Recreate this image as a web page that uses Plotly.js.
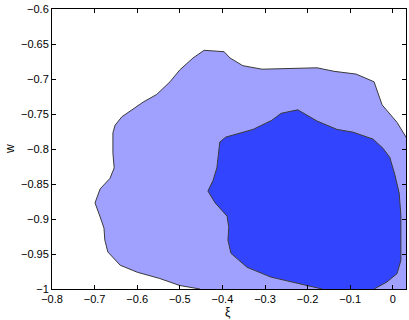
<!DOCTYPE html>
<html>
<head>
<meta charset="utf-8">
<script src="https://cdn.plot.ly/plotly-3.0.1.min.js"></script>
<style>html,body{margin:0;padding:0;background:#fff}#chart{width:409px;height:320px}</style>
</head>
<body>
<div id="chart"></div>
<script>
// Outer (lighter) credible region boundary: xi values and w values
const outerXi = [-0.4526,-0.500,-0.547,-0.600,-0.640,-0.669,-0.676,-0.678,-0.687,-0.699,-0.687,-0.664,-0.654,-0.657,-0.657,-0.652,-0.636,-0.612,-0.586,-0.554,-0.523,-0.500,-0.469,-0.443,-0.396,-0.382,-0.352,-0.307,-0.215,-0.178,-0.138,-0.086,-0.044,-0.025,0.010,0.031,0.045,0.045,-0.44,-0.4526];
const outerW  = [-1.000,-0.995,-0.985,-0.976,-0.966,-0.947,-0.930,-0.913,-0.897,-0.877,-0.857,-0.842,-0.827,-0.806,-0.777,-0.766,-0.754,-0.744,-0.733,-0.722,-0.704,-0.687,-0.670,-0.659,-0.661,-0.670,-0.681,-0.686,-0.684,-0.684,-0.689,-0.693,-0.704,-0.737,-0.762,-0.783,-0.800,-1.020,-1.020,-1.000];
// Inner (darker) credible region boundary
const innerXi = [-0.166,-0.225,-0.286,-0.342,-0.380,-0.387,-0.385,-0.389,-0.417,-0.434,-0.422,-0.413,-0.410,-0.406,-0.392,-0.328,-0.284,-0.262,-0.223,-0.178,-0.131,-0.093,-0.046,-0.023,-0.007,0.005,0.015,0.019,0.019,0.019,0.010,-0.014,-0.044,-0.040,-0.170,-0.166];
const innerW  = [-1.000,-0.992,-0.983,-0.969,-0.949,-0.930,-0.912,-0.896,-0.877,-0.860,-0.845,-0.827,-0.806,-0.790,-0.783,-0.772,-0.759,-0.749,-0.744,-0.760,-0.772,-0.776,-0.786,-0.799,-0.812,-0.837,-0.863,-0.895,-0.930,-0.959,-0.978,-0.990,-1.000,-1.020,-1.020,-1.000];
// Axis ticks
const xTickVals = [-0.8,-0.7,-0.6,-0.5,-0.4,-0.3,-0.2,-0.1,0];
const xTickText = ['\u22120.8','\u22120.7','\u22120.6','\u22120.5','\u22120.4','\u22120.3','\u22120.2','\u22120.1','0'];
const yTickVals = [-1,-0.95,-0.9,-0.85,-0.8,-0.75,-0.7,-0.65,-0.6];
const yTickText = ['\u22121','\u22120.95','\u22120.9','\u22120.85','\u22120.8','\u22120.75','\u22120.7','\u22120.65','\u22120.6'];
const xLabel = '\u03be';
const yLabel = 'w';

const traces = [
  {x: outerXi, y: outerW, mode: 'lines', fill: 'toself', fillcolor: 'rgb(160,160,255)',
   line: {color: '#3a3a3a', width: 1}, hoverinfo: 'skip', showlegend: false},
  {x: innerXi, y: innerW, mode: 'lines', fill: 'toself', fillcolor: 'rgb(51,68,255)',
   line: {color: '#3a3a3a', width: 1}, hoverinfo: 'skip', showlegend: false}
];

const fontFam = 'Liberation Sans, Arial, sans-serif';
const axisCommon = {
  showgrid: false, zeroline: false, showline: true, linecolor: '#000', linewidth: 1,
  mirror: 'ticks', ticks: 'inside', ticklen: 4, tickcolor: '#000', tickwidth: 1,
  tickfont: {family: fontFam, size: 11, color: '#000'}
};

const layout = {
  width: 409, height: 320,
  margin: {l: 52, r: 3, t: 9, b: 31},
  paper_bgcolor: '#fff', plot_bgcolor: '#fff',
  xaxis: Object.assign({}, axisCommon, {
    range: [-0.8, 0.031], tickvals: xTickVals, ticktext: xTickText
  }),
  yaxis: Object.assign({}, axisCommon, {
    range: [-1, -0.6], tickvals: yTickVals, ticktext: yTickText
  }),
  annotations: [
    {text: xLabel, xref: 'paper', yref: 'paper', x: 0.4975, y: 0, xanchor: 'center', yanchor: 'middle',
     yshift: -23, borderpad: 0, showarrow: false, font: {family: fontFam, size: 12, color: '#000'}},
    {text: yLabel, xref: 'paper', yref: 'paper', x: 0, y: 0.5, xanchor: 'center', yanchor: 'middle',
     xshift: -42, textangle: -90, showarrow: false, font: {family: fontFam, size: 12, color: '#000'}}
  ]
};

Plotly.newPlot('chart', traces, layout, {staticPlot: true, displayModeBar: false});
</script>
</body>
</html>
